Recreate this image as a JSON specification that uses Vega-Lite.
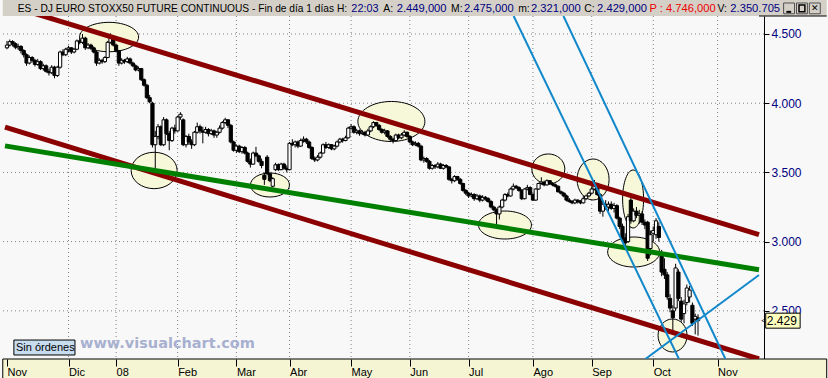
{
"$schema": "https://vega.github.io/schema/vega-lite/v6.json",
"autosize": {"type": "none"},
"padding": {"left": 0, "top": 16, "right": 64, "bottom": 19},
"width": 764,
"height": 343,
"background": "#f8f8f8",
"config": {"view": {"fill": "#f8f8f8", "stroke": null}, "font": "Liberation Sans", "text": {"font": "Liberation Sans"}},
"datasets": {
"candles": [
{"i":0,"o":4400,"h":4450,"l":4390,"c":4420},{"i":1,"o":4420,"h":4460,"l":4410,"c":4445},{"i":2,"o":4445,"h":4455,"l":4410,"c":4430},{"i":3,"o":4430,"h":4440,"l":4390,"c":4405},{"i":4,"o":4400,"h":4430,"l":4385,"c":4410},{"i":5,"o":4410,"h":4420,"l":4360,"c":4380},{"i":6,"o":4380,"h":4390,"l":4330,"c":4350},{"i":7,"o":4350,"h":4360,"l":4270,"c":4290},{"i":8,"o":4290,"h":4345,"l":4280,"c":4330},{"i":9,"o":4330,"h":4340,"l":4295,"c":4310},
{"i":10,"o":4310,"h":4320,"l":4265,"c":4280},{"i":11,"o":4280,"h":4320,"l":4270,"c":4300},{"i":12,"o":4300,"h":4310,"l":4240,"c":4250},{"i":13,"o":4250,"h":4285,"l":4235,"c":4270},{"i":14,"o":4270,"h":4280,"l":4220,"c":4230},{"i":15,"o":4230,"h":4250,"l":4200,"c":4220},{"i":16,"o":4220,"h":4275,"l":4210,"c":4260},{"i":17,"o":4260,"h":4270,"l":4180,"c":4200},{"i":18,"o":4200,"h":4270,"l":4190,"c":4260},{"i":19,"o":4260,"h":4380,"l":4250,"c":4370},
{"i":20,"o":4370,"h":4390,"l":4340,"c":4350},{"i":21,"o":4350,"h":4400,"l":4340,"c":4390},{"i":22,"o":4390,"h":4415,"l":4370,"c":4400},{"i":23,"o":4400,"h":4405,"l":4355,"c":4370},{"i":24,"o":4370,"h":4400,"l":4360,"c":4390},{"i":25,"o":4390,"h":4460,"l":4385,"c":4450},{"i":26,"o":4450,"h":4470,"l":4425,"c":4440},{"i":27,"o":4440,"h":4500,"l":4430,"c":4470},{"i":28,"o":4470,"h":4480,"l":4385,"c":4400},{"i":29,"o":4400,"h":4435,"l":4390,"c":4420},
{"i":30,"o":4420,"h":4430,"l":4385,"c":4400},{"i":31,"o":4400,"h":4410,"l":4360,"c":4370},{"i":32,"o":4370,"h":4380,"l":4270,"c":4290},{"i":33,"o":4290,"h":4325,"l":4280,"c":4310},{"i":34,"o":4310,"h":4320,"l":4285,"c":4300},{"i":35,"o":4300,"h":4340,"l":4290,"c":4330},{"i":36,"o":4330,"h":4450,"l":4325,"c":4440},{"i":37,"o":4440,"h":4505,"l":4430,"c":4480},{"i":38,"o":4480,"h":4490,"l":4410,"c":4420},{"i":39,"o":4420,"h":4430,"l":4370,"c":4380},
{"i":40,"o":4380,"h":4385,"l":4270,"c":4290},{"i":41,"o":4290,"h":4325,"l":4280,"c":4310},{"i":42,"o":4310,"h":4320,"l":4285,"c":4300},{"i":43,"o":4300,"h":4335,"l":4290,"c":4320},{"i":44,"o":4320,"h":4330,"l":4280,"c":4290},{"i":45,"o":4290,"h":4300,"l":4260,"c":4270},{"i":46,"o":4270,"h":4280,"l":4230,"c":4240},{"i":47,"o":4240,"h":4265,"l":4230,"c":4250},{"i":48,"o":4250,"h":4255,"l":4160,"c":4170},{"i":49,"o":4170,"h":4180,"l":4120,"c":4130},
{"i":50,"o":4130,"h":4140,"l":4030,"c":4040},{"i":51,"o":4040,"h":4060,"l":4000,"c":4010},{"i":52,"o":4000,"h":4010,"l":3680,"c":3700},{"i":53,"o":3700,"h":3800,"l":3517,"c":3760},{"i":54,"o":3760,"h":3850,"l":3740,"c":3830},{"i":55,"o":3830,"h":3840,"l":3690,"c":3700},{"i":56,"o":3700,"h":3900,"l":3690,"c":3880},{"i":57,"o":3880,"h":3890,"l":3770,"c":3780},{"i":58,"o":3780,"h":3800,"l":3660,"c":3730},{"i":59,"o":3730,"h":3830,"l":3720,"c":3820},
{"i":60,"o":3820,"h":3845,"l":3780,"c":3800},{"i":61,"o":3800,"h":3910,"l":3795,"c":3900},{"i":62,"o":3900,"h":3935,"l":3880,"c":3920},{"i":63,"o":3880,"h":3890,"l":3690,"c":3700},{"i":64,"o":3700,"h":3770,"l":3680,"c":3760},{"i":65,"o":3760,"h":3780,"l":3700,"c":3720},{"i":66,"o":3720,"h":3740,"l":3670,"c":3700},{"i":67,"o":3700,"h":3800,"l":3690,"c":3790},{"i":68,"o":3790,"h":3860,"l":3780,"c":3830},{"i":69,"o":3830,"h":3845,"l":3780,"c":3800},
{"i":70,"o":3800,"h":3830,"l":3710,"c":3790},{"i":71,"o":3790,"h":3830,"l":3780,"c":3810},{"i":72,"o":3810,"h":3820,"l":3760,"c":3780},{"i":73,"o":3780,"h":3815,"l":3770,"c":3800},{"i":74,"o":3800,"h":3810,"l":3750,"c":3770},{"i":75,"o":3770,"h":3800,"l":3750,"c":3790},{"i":76,"o":3790,"h":3840,"l":3780,"c":3820},{"i":77,"o":3820,"h":3870,"l":3810,"c":3860},{"i":78,"o":3860,"h":3895,"l":3850,"c":3880},{"i":79,"o":3880,"h":3885,"l":3820,"c":3840},
{"i":80,"o":3840,"h":3850,"l":3710,"c":3720},{"i":81,"o":3720,"h":3730,"l":3650,"c":3660},{"i":82,"o":3660,"h":3700,"l":3640,"c":3690},{"i":83,"o":3690,"h":3700,"l":3640,"c":3650},{"i":84,"o":3650,"h":3690,"l":3635,"c":3680},{"i":85,"o":3680,"h":3690,"l":3630,"c":3640},{"i":86,"o":3640,"h":3650,"l":3570,"c":3580},{"i":87,"o":3580,"h":3600,"l":3535,"c":3560},{"i":88,"o":3560,"h":3650,"l":3555,"c":3640},{"i":89,"o":3640,"h":3685,"l":3610,"c":3620},
{"i":90,"o":3620,"h":3630,"l":3570,"c":3580},{"i":91,"o":3580,"h":3600,"l":3530,"c":3550},{"i":92,"o":3480,"h":3500,"l":3410,"c":3450},{"i":93,"o":3610,"h":3625,"l":3480,"c":3490},{"i":94,"o":3490,"h":3500,"l":3430,"c":3440},{"i":95,"o":3400,"h":3465,"l":3390,"c":3455},{"i":96,"o":3520,"h":3570,"l":3510,"c":3555},{"i":97,"o":3555,"h":3565,"l":3510,"c":3520},{"i":98,"o":3520,"h":3570,"l":3515,"c":3560},{"i":99,"o":3560,"h":3570,"l":3520,"c":3530},
{"i":100,"o":3530,"h":3550,"l":3500,"c":3520},{"i":101,"o":3520,"h":3720,"l":3515,"c":3710},{"i":102,"o":3710,"h":3740,"l":3690,"c":3700},{"i":103,"o":3700,"h":3730,"l":3680,"c":3720},{"i":104,"o":3720,"h":3730,"l":3675,"c":3690},{"i":105,"o":3690,"h":3745,"l":3685,"c":3730},{"i":106,"o":3730,"h":3760,"l":3715,"c":3740},{"i":107,"o":3740,"h":3750,"l":3705,"c":3720},{"i":108,"o":3720,"h":3730,"l":3670,"c":3680},{"i":109,"o":3680,"h":3690,"l":3590,"c":3600},
{"i":110,"o":3600,"h":3615,"l":3575,"c":3590},{"i":111,"o":3590,"h":3625,"l":3580,"c":3610},{"i":112,"o":3610,"h":3650,"l":3600,"c":3640},{"i":113,"o":3640,"h":3710,"l":3635,"c":3700},{"i":114,"o":3700,"h":3720,"l":3670,"c":3680},{"i":115,"o":3680,"h":3710,"l":3670,"c":3700},{"i":116,"o":3700,"h":3705,"l":3660,"c":3670},{"i":117,"o":3670,"h":3700,"l":3660,"c":3690},{"i":118,"o":3690,"h":3730,"l":3680,"c":3720},{"i":119,"o":3720,"h":3750,"l":3710,"c":3740},
{"i":120,"o":3740,"h":3750,"l":3715,"c":3730},{"i":121,"o":3730,"h":3765,"l":3725,"c":3750},{"i":122,"o":3750,"h":3830,"l":3745,"c":3820},{"i":123,"o":3820,"h":3850,"l":3810,"c":3830},{"i":124,"o":3830,"h":3840,"l":3780,"c":3790},{"i":125,"o":3790,"h":3815,"l":3775,"c":3800},{"i":126,"o":3800,"h":3810,"l":3765,"c":3780},{"i":127,"o":3780,"h":3805,"l":3770,"c":3790},{"i":128,"o":3790,"h":3800,"l":3760,"c":3770},{"i":129,"o":3770,"h":3815,"l":3765,"c":3800},
{"i":130,"o":3800,"h":3840,"l":3790,"c":3830},{"i":131,"o":3830,"h":3870,"l":3820,"c":3860},{"i":132,"o":3860,"h":3865,"l":3830,"c":3840},{"i":133,"o":3840,"h":3850,"l":3800,"c":3810},{"i":134,"o":3810,"h":3820,"l":3780,"c":3790},{"i":135,"o":3790,"h":3815,"l":3775,"c":3800},{"i":136,"o":3800,"h":3805,"l":3750,"c":3760},{"i":137,"o":3760,"h":3770,"l":3720,"c":3740},{"i":138,"o":3740,"h":3750,"l":3710,"c":3730},{"i":139,"o":3730,"h":3780,"l":3725,"c":3770},
{"i":140,"o":3770,"h":3780,"l":3740,"c":3750},{"i":141,"o":3750,"h":3785,"l":3740,"c":3770},{"i":142,"o":3770,"h":3805,"l":3760,"c":3790},{"i":143,"o":3790,"h":3795,"l":3750,"c":3760},{"i":144,"o":3760,"h":3770,"l":3710,"c":3720},{"i":145,"o":3720,"h":3730,"l":3690,"c":3700},{"i":146,"o":3700,"h":3725,"l":3690,"c":3710},{"i":147,"o":3710,"h":3720,"l":3680,"c":3690},{"i":148,"o":3690,"h":3700,"l":3580,"c":3590},{"i":149,"o":3590,"h":3615,"l":3570,"c":3600},
{"i":150,"o":3600,"h":3610,"l":3570,"c":3580},{"i":151,"o":3580,"h":3590,"l":3520,"c":3530},{"i":152,"o":3530,"h":3560,"l":3520,"c":3550},{"i":153,"o":3550,"h":3560,"l":3525,"c":3540},{"i":154,"o":3540,"h":3575,"l":3530,"c":3560},{"i":155,"o":3560,"h":3570,"l":3525,"c":3530},{"i":156,"o":3530,"h":3560,"l":3520,"c":3550},{"i":157,"o":3550,"h":3560,"l":3530,"c":3540},{"i":158,"o":3540,"h":3545,"l":3440,"c":3450},{"i":159,"o":3450,"h":3460,"l":3420,"c":3440},
{"i":160,"o":3440,"h":3480,"l":3430,"c":3470},{"i":161,"o":3470,"h":3475,"l":3440,"c":3450},{"i":162,"o":3450,"h":3460,"l":3410,"c":3420},{"i":163,"o":3420,"h":3425,"l":3360,"c":3370},{"i":164,"o":3370,"h":3380,"l":3335,"c":3350},{"i":165,"o":3350,"h":3360,"l":3315,"c":3330},{"i":166,"o":3330,"h":3355,"l":3320,"c":3340},{"i":167,"o":3340,"h":3350,"l":3295,"c":3310},{"i":168,"o":3310,"h":3345,"l":3300,"c":3330},{"i":169,"o":3330,"h":3340,"l":3285,"c":3300},
{"i":170,"o":3300,"h":3335,"l":3290,"c":3320},{"i":171,"o":3320,"h":3330,"l":3295,"c":3310},{"i":172,"o":3310,"h":3320,"l":3280,"c":3290},{"i":173,"o":3290,"h":3300,"l":3240,"c":3250},{"i":174,"o":3250,"h":3260,"l":3220,"c":3230},{"i":175,"o":3230,"h":3240,"l":3105,"c":3200},{"i":176,"o":3200,"h":3260,"l":3160,"c":3250},{"i":177,"o":3250,"h":3310,"l":3240,"c":3300},{"i":178,"o":3300,"h":3350,"l":3290,"c":3340},{"i":179,"o":3340,"h":3355,"l":3320,"c":3330},
{"i":180,"o":3330,"h":3390,"l":3325,"c":3380},{"i":181,"o":3380,"h":3420,"l":3370,"c":3400},{"i":182,"o":3400,"h":3410,"l":3380,"c":3390},{"i":183,"o":3390,"h":3400,"l":3360,"c":3370},{"i":184,"o":3370,"h":3380,"l":3300,"c":3310},{"i":185,"o":3310,"h":3385,"l":3305,"c":3380},{"i":186,"o":3380,"h":3410,"l":3370,"c":3390},{"i":187,"o":3390,"h":3400,"l":3335,"c":3340},{"i":188,"o":3340,"h":3350,"l":3295,"c":3300},{"i":189,"o":3300,"h":3385,"l":3295,"c":3380},
{"i":190,"o":3380,"h":3425,"l":3375,"c":3420},{"i":191,"o":3420,"h":3465,"l":3410,"c":3430},{"i":192,"o":3430,"h":3440,"l":3400,"c":3410},{"i":193,"o":3410,"h":3450,"l":3405,"c":3440},{"i":194,"o":3440,"h":3445,"l":3410,"c":3420},{"i":195,"o":3420,"h":3430,"l":3400,"c":3410},{"i":196,"o":3410,"h":3420,"l":3390,"c":3400},{"i":197,"o":3400,"h":3405,"l":3355,"c":3360},{"i":198,"o":3360,"h":3370,"l":3340,"c":3350},{"i":199,"o":3350,"h":3360,"l":3320,"c":3330},
{"i":200,"o":3330,"h":3340,"l":3290,"c":3300},{"i":201,"o":3300,"h":3315,"l":3280,"c":3290},{"i":202,"o":3290,"h":3300,"l":3270,"c":3280},{"i":203,"o":3280,"h":3310,"l":3270,"c":3300},{"i":204,"o":3300,"h":3305,"l":3275,"c":3290},{"i":205,"o":3290,"h":3300,"l":3270,"c":3280},{"i":206,"o":3280,"h":3330,"l":3275,"c":3310},{"i":207,"o":3310,"h":3340,"l":3300,"c":3330},{"i":208,"o":3330,"h":3360,"l":3320,"c":3350},{"i":209,"o":3350,"h":3400,"l":3340,"c":3380},
{"i":210,"o":3380,"h":3445,"l":3370,"c":3420},{"i":211,"o":3420,"h":3425,"l":3330,"c":3340},{"i":212,"o":3340,"h":3350,"l":3200,"c":3220},{"i":213,"o":3220,"h":3290,"l":3180,"c":3270},{"i":214,"o":3270,"h":3300,"l":3230,"c":3250},{"i":215,"o":3250,"h":3290,"l":3220,"c":3270},{"i":216,"o":3270,"h":3290,"l":3230,"c":3240},{"i":217,"o":3240,"h":3280,"l":3210,"c":3260},{"i":218,"o":3260,"h":3270,"l":3160,"c":3170},{"i":219,"o":3170,"h":3180,"l":3090,"c":3110},
{"i":220,"o":3110,"h":3130,"l":3000,"c":3020},{"i":221,"o":3020,"h":3060,"l":2960,"c":2990},{"i":222,"o":3000,"h":3200,"l":2990,"c":3180},{"i":223,"o":3300,"h":3320,"l":3130,"c":3150},{"i":224,"o":3150,"h":3240,"l":3140,"c":3220},{"i":225,"o":3220,"h":3250,"l":3170,"c":3190},{"i":226,"o":3190,"h":3230,"l":3130,"c":3200},{"i":227,"o":3200,"h":3220,"l":3120,"c":3140},{"i":228,"o":3140,"h":3160,"l":3090,"c":3120},{"i":229,"o":3140,"h":3150,"l":2860,"c":2880},
{"i":230,"o":2950,"h":3080,"l":2900,"c":3050},{"i":231,"o":3060,"h":3110,"l":3000,"c":3080},{"i":232,"o":3050,"h":3170,"l":3020,"c":3150},{"i":233,"o":3110,"h":3140,"l":3000,"c":3030},{"i":234,"o":2920,"h":2940,"l":2750,"c":2780},{"i":235,"o":2800,"h":2880,"l":2730,"c":2760},{"i":236,"o":2760,"h":2780,"l":2580,"c":2600},{"i":237,"o":2590,"h":2620,"l":2490,"c":2520},{"i":238,"o":2500,"h":2540,"l":2340,"c":2450},{"i":239,"o":2520,"h":2840,"l":2500,"c":2810},
{"i":240,"o":2780,"h":2800,"l":2570,"c":2590},{"i":241,"o":2570,"h":2600,"l":2420,"c":2440},{"i":242,"o":2480,"h":2580,"l":2410,"c":2550},{"i":243,"o":2560,"h":2690,"l":2540,"c":2665},{"i":244,"o":2600,"h":2680,"l":2560,"c":2650},{"i":245,"o":2540,"h":2560,"l":2390,"c":2410},{"i":246,"o":2440,"h":2480,"l":2330,"c":2460},{"i":247,"o":2449,"h":2475,"l":2321,"c":2429}
],
"months": [{"i":22,"m":"Dic"},{"i":39,"m":"08"},{"i":61,"m":"Feb"},{"i":82,"m":"Mar"},{"i":101,"m":"Abr"},{"i":123,"m":"May"},{"i":144,"m":"Jun"},{"i":165,"m":"Jul"},{"i":188,"m":"Ago"},{"i":209,"m":"Sep"},{"i":231,"m":"Oct"},{"i":254,"m":"Nov"}],
"levels": [{"p":2500},{"p":3000},{"p":3500},{"p":4000},{"p":4500}],
"ellipses": [
{"n":"e1","i":36.5,"p":4478},{"n":"e2","i":52.6,"p":3514},{"n":"e3","i":94.0,"p":3409},{"n":"e4","i":137.4,"p":3868},{"n":"e5","i":178.0,"p":3120},{"n":"e6","i":193.5,"p":3525},{"n":"e7","i":209.5,"p":3449},{"n":"e8","i":223.8,"p":3308},{"n":"e9","i":224.0,"p":2925},{"n":"e10","i":237.9,"p":2322}
],
"lines": [
{"kind":"canal","i":-0.705,"p":4713.8,"i2":268.8,"p2":3050},
{"kind":"canal","i":-0.705,"p":3826.6,"i2":268.8,"p2":2152},
{"kind":"media","i":-0.705,"p":3691.5,"i2":268.8,"p2":2797},
{"kind":"rapida","i":181.1,"p":4630,"i2":240.2,"p2":2152},
{"kind":"rapida","i":198.9,"p":4630,"i2":256.8,"p2":2152},
{"kind":"rapida","i":228.2,"p":2152,"i2":268.8,"p2":2759}
]
},
"layer": [
{"data": {"values": [{}]}, "mark": {"type": "rect", "fill": "#d4d0c8"},
 "encoding": {"x": {"datum": -1.5, "type": "quantitative"}, "x2": {"datum": 293}, "y": {"datum": 4760, "type": "quantitative"}, "y2": {"datum": 4630}}},
{"data": {"values": [{}]}, "mark": {"type": "rule", "stroke": "#000000", "strokeWidth": 1},
 "encoding": {"x": {"datum": 268.8, "type": "quantitative"}, "x2": {"datum": 293}, "y": {"datum": 4630, "type": "quantitative"}}},
{"data": {"values": [{}]}, "mark": {"type": "rect", "fill": "#f5f5d3", "stroke": "#000000", "strokeWidth": 1},
 "encoding": {"x": {"datum": -1.5, "type": "quantitative"}, "x2": {"datum": 293}, "y": {"datum": 2152, "type": "quantitative"}, "y2": {"datum": 1990}}},
{"data": {"name": "months"}, "mark": {"type": "rule", "stroke": "#808080", "strokeWidth": 1, "strokeDash": [1, 3]},
 "encoding": {"x": {"field": "i", "type": "quantitative"}}},
{"data": {"name": "levels"}, "mark": {"type": "rule", "stroke": "#808080", "strokeWidth": 1, "strokeDash": [1, 3]},
 "encoding": {"y": {"field": "p", "type": "quantitative"}}},
{"data": {"name": "ellipses"}, "mark": {"type": "point", "filled": true, "fill": "#f7f7da", "stroke": "#000000", "strokeWidth": 1, "opacity": 1, "strokeOpacity": 1, "fillOpacity": 1, "size": 4},
 "encoding": {"x": {"field": "i", "type": "quantitative"}, "y": {"field": "p", "type": "quantitative"},
  "shape": {"field": "n", "type": "nominal", "legend": null, "scale": {"domain": ["e1","e2","e3","e4","e5","e6","e7","e8","e9","e10"],
   "range": ["M-29.5,0A29.5,14.7,0,1,1,29.5,0A29.5,14.7,0,1,1,-29.5,0Z",
             "M-23,0A23,18.2,0,1,1,23,0A23,18.2,0,1,1,-23,0Z",
             "M-19.5,0A19.5,12,0,1,1,19.5,0A19.5,12,0,1,1,-19.5,0Z",
             "M-33.5,0A33.5,20,0,1,1,33.5,0A33.5,20,0,1,1,-33.5,0Z",
             "M-26.5,0A26.5,14,0,1,1,26.5,0A26.5,14,0,1,1,-26.5,0Z",
             "M-16.5,0A16.5,15,0,1,1,16.5,0A16.5,15,0,1,1,-16.5,0Z",
             "M-16,0A16,20.5,0,1,1,16,0A16,20.5,0,1,1,-16,0Z",
             "M-10.5,0A10.5,29,0,1,1,10.5,0A10.5,29,0,1,1,-10.5,0Z",
             "M-26,0A26,15,0,1,1,26,0A26,15,0,1,1,-26,0Z",
             "M-14.5,0A14.5,16.5,0,1,1,14.5,0A14.5,16.5,0,1,1,-14.5,0Z"]}}}},
{"data": {"name": "candles"}, "mark": {"type": "rule", "stroke": "#000000", "strokeWidth": 1},
 "encoding": {
  "x": {"field": "i", "type": "quantitative", "scale": {"domain": [-0.705, 268.8], "nice": false, "zero": false},
   "axis": {"orient": "bottom", "title": null, "grid": false, "domain": false, "values": [0,22,39,61,82,101,123,144,165,188,209,231,254],
    "labelExpr": "['Nov','Dic','08','Feb','Mar','Abr','May','Jun','Jul','Ago','Sep','Oct','Nov'][indexof([0,22,39,61,82,101,123,144,165,188,209,231,254], datum.value)]",
    "tickColor": "#000000", "tickSize": 7, "labelAlign": "left", "labelDx": 2, "labelPadding": 0, "labelFont": "Liberation Sans", "labelFontSize": 11, "labelColor": "#000000", "labelFlush": false, "labelOverlap": false, "zindex": 1}},
  "y": {"field": "l", "type": "quantitative", "scale": {"domain": [2152, 4630], "nice": false, "zero": false},
   "axis": {"orient": "right", "title": null, "grid": false, "domain": true, "domainColor": "#000000", "domainWidth": 1, "values": [2500,3000,3500,4000,4500],
    "labelExpr": "replace(format(datum.value, ','), ',', '.')", "tickColor": "#000000", "tickSize": 5, "labelPadding": 2, "labelColor": "#000080", "labelFont": "Liberation Sans", "labelFontSize": 12, "zindex": 0}},
  "y2": {"field": "h"}}},
{"data": {"name": "candles"}, "mark": {"type": "bar", "size": 3.2, "stroke": "#000000", "strokeWidth": 1},
 "encoding": {"x": {"field": "i", "type": "quantitative"}, "y": {"field": "o", "type": "quantitative"}, "y2": {"field": "c"},
  "fill": {"condition": {"test": "datum.c < datum.o", "value": "#000000"}, "value": "#ffffff"}}},
{"data": {"name": "lines"}, "transform": [{"filter": "datum.kind != 'rapida'"}], "mark": {"type": "rule", "strokeWidth": 5, "clip": true, "strokeCap": "butt"},
 "encoding": {"x": {"field": "i", "type": "quantitative"}, "x2": {"field": "i2"}, "y": {"field": "p", "type": "quantitative"}, "y2": {"field": "p2"},
  "color": {"field": "kind", "type": "nominal", "legend": null, "scale": {"domain": ["canal", "media", "rapida"], "range": ["#8b0000", "#008000", "#1188cc"]}}}},
{"data": {"name": "lines"}, "transform": [{"filter": "datum.kind == 'rapida'"}], "mark": {"type": "rule", "strokeWidth": 2, "clip": true, "strokeCap": "butt"},
 "encoding": {"x": {"field": "i", "type": "quantitative"}, "x2": {"field": "i2"}, "y": {"field": "p", "type": "quantitative"}, "y2": {"field": "p2"},
  "color": {"field": "kind", "type": "nominal", "legend": null}}},
{"data": {"values": [{}]}, "mark": {"type": "rect", "fill": "#c8dcf0", "stroke": "#000000", "strokeWidth": 1},
 "encoding": {"x": {"datum": 2.47, "type": "quantitative"}, "x2": {"datum": 24.3}, "y": {"datum": 2289, "type": "quantitative"}, "y2": {"datum": 2181}}},
{"data": {"values": [{}]}, "mark": {"type": "text", "text": "Sin órdenes", "align": "left", "baseline": "middle", "fontSize": 11, "color": "#000000"},
 "encoding": {"x": {"datum": 3.2, "type": "quantitative"}, "y": {"datum": 2235, "type": "quantitative"}}},
{"data": {"values": [{}]}, "mark": {"type": "text", "text": "www.visualchart.com", "align": "left", "baseline": "middle", "font": "DejaVu Sans", "fontSize": 14.5, "fontWeight": "bold", "color": "#a8b0d0"},
 "encoding": {"x": {"datum": 26.1, "type": "quantitative"}, "y": {"datum": 2260, "type": "quantitative"}}},
{"data": {"name": "candles"}, "transform": [{"filter": "datum.i == 247"}], "mark": {"type": "rect", "fill": "#ffffc0", "stroke": "#000000", "strokeWidth": 1, "height": 15},
 "encoding": {"x": {"datum": 271.2, "type": "quantitative"}, "x2": {"datum": 283.5}, "y": {"field": "c", "type": "quantitative"}}},
{"data": {"name": "candles"}, "transform": [{"filter": "datum.i == 247"}], "mark": {"type": "text", "text": "2.429", "align": "left", "baseline": "middle", "fontSize": 12, "color": "#000000"},
 "encoding": {"x": {"datum": 271.6, "type": "quantitative"}, "y": {"field": "c", "type": "quantitative"}}},
{"data": {"name": "candles"}, "transform": [{"filter": "datum.i == 247"}], "mark": {"type": "text", "text": "<", "align": "left", "baseline": "middle", "fontSize": 8, "color": "#000000"},
 "encoding": {"x": {"datum": 269.6, "type": "quantitative"}, "y": {"field": "c", "type": "quantitative"}}},
{"data": {"values": [{}]}, "mark": {"type": "text", "text": "ES - DJ EURO STOXX50 FUTURE CONTINUOUS - Fin de día 1 días H:", "align": "left", "baseline": "alphabetic", "fontSize": 10.2, "color": "#000000"},
 "encoding": {"x": {"datum": 3.88, "type": "quantitative"}, "y": {"datum": 4656.7, "type": "quantitative"}}},
{"data": {"values": [{}]}, "mark": {"type": "text", "text": "22:03", "align": "left", "baseline": "alphabetic", "fontSize": 10.8, "color": "#000080"},
 "encoding": {"x": {"datum": 123.1, "type": "quantitative"}, "y": {"datum": 4656.7, "type": "quantitative"}}},
{"data": {"values": [{}]}, "mark": {"type": "text", "text": "A:", "align": "left", "baseline": "alphabetic", "fontSize": 10.4, "color": "#000000"},
 "encoding": {"x": {"datum": 134.5, "type": "quantitative"}, "y": {"datum": 4656.7, "type": "quantitative"}}},
{"data": {"values": [{}]}, "mark": {"type": "text", "text": "2.449,000", "align": "left", "baseline": "alphabetic", "fontSize": 11.2, "color": "#000080"},
 "encoding": {"x": {"datum": 139.33, "type": "quantitative"}, "y": {"datum": 4656.7, "type": "quantitative"}}},
{"data": {"values": [{}]}, "mark": {"type": "text", "text": "M:", "align": "left", "baseline": "alphabetic", "fontSize": 10.4, "color": "#000000"},
 "encoding": {"x": {"datum": 158.73, "type": "quantitative"}, "y": {"datum": 4656.7, "type": "quantitative"}}},
{"data": {"values": [{}]}, "mark": {"type": "text", "text": "2.475,000", "align": "left", "baseline": "alphabetic", "fontSize": 11.2, "color": "#000080"},
 "encoding": {"x": {"datum": 163.32, "type": "quantitative"}, "y": {"datum": 4656.7, "type": "quantitative"}}},
{"data": {"values": [{}]}, "mark": {"type": "text", "text": "m:", "align": "left", "baseline": "alphabetic", "fontSize": 10.4, "color": "#000000"},
 "encoding": {"x": {"datum": 182.72, "type": "quantitative"}, "y": {"datum": 4656.7, "type": "quantitative"}}},
{"data": {"values": [{}]}, "mark": {"type": "text", "text": "2.321,000", "align": "left", "baseline": "alphabetic", "fontSize": 11.2, "color": "#000080"},
 "encoding": {"x": {"datum": 187.3, "type": "quantitative"}, "y": {"datum": 4656.7, "type": "quantitative"}}},
{"data": {"values": [{}]}, "mark": {"type": "text", "text": "C:", "align": "left", "baseline": "alphabetic", "fontSize": 10.4, "color": "#000000"},
 "encoding": {"x": {"datum": 206.35, "type": "quantitative"}, "y": {"datum": 4656.7, "type": "quantitative"}}},
{"data": {"values": [{}]}, "mark": {"type": "text", "text": "2.429,000", "align": "left", "baseline": "alphabetic", "fontSize": 11.2, "color": "#000080"},
 "encoding": {"x": {"datum": 210.93, "type": "quantitative"}, "y": {"datum": 4656.7, "type": "quantitative"}}},
{"data": {"values": [{}]}, "mark": {"type": "text", "text": "P : 4.746,000", "align": "left", "baseline": "alphabetic", "fontSize": 11.2, "color": "#ee0000"},
 "encoding": {"x": {"datum": 229.63, "type": "quantitative"}, "y": {"datum": 4656.7, "type": "quantitative"}}},
{"data": {"values": [{}]}, "mark": {"type": "text", "text": "V:", "align": "left", "baseline": "alphabetic", "fontSize": 10.4, "color": "#000000"},
 "encoding": {"x": {"datum": 253.97, "type": "quantitative"}, "y": {"datum": 4656.7, "type": "quantitative"}}},
{"data": {"values": [{}]}, "mark": {"type": "text", "text": "2.350.705", "align": "left", "baseline": "alphabetic", "fontSize": 11.2, "color": "#000080"},
 "encoding": {"x": {"datum": 258.55, "type": "quantitative"}, "y": {"datum": 4656.7, "type": "quantitative"}}},
{"data": {"values": [{}]}, "mark": {"type": "rect", "fill": "#d4d0c8", "stroke": "#505050", "strokeWidth": 1},
 "encoding": {"x": {"datum": 277.6, "type": "quantitative"}, "x2": {"datum": 281.5}, "y": {"datum": 4724, "type": "quantitative"}, "y2": {"datum": 4646}}},
{"data": {"values": [{}]}, "mark": {"type": "rect", "fill": "#d4d0c8", "stroke": "#505050", "strokeWidth": 1},
 "encoding": {"x": {"datum": 282.2, "type": "quantitative"}, "x2": {"datum": 286.1}, "y": {"datum": 4724, "type": "quantitative"}, "y2": {"datum": 4646}}},
{"data": {"values": [{}]}, "mark": {"type": "rect", "fill": "#d4d0c8", "stroke": "#505050", "strokeWidth": 1},
 "encoding": {"x": {"datum": 286.8, "type": "quantitative"}, "x2": {"datum": 290.7}, "y": {"datum": 4724, "type": "quantitative"}, "y2": {"datum": 4646}}},
{"data": {"values": [{}]}, "mark": {"type": "rule", "stroke": "#000000", "strokeWidth": 2},
 "encoding": {"x": {"datum": 278.6, "type": "quantitative"}, "x2": {"datum": 280.3}, "y": {"datum": 4660, "type": "quantitative"}}},
{"data": {"values": [{}]}, "mark": {"type": "rect", "fill": "#d4d0c8", "stroke": "#000000", "strokeWidth": 1.5},
 "encoding": {"x": {"datum": 283.1, "type": "quantitative"}, "x2": {"datum": 285.2}, "y": {"datum": 4710, "type": "quantitative"}, "y2": {"datum": 4660}}},
{"data": {"values": [{}]}, "mark": {"type": "text", "text": "✕", "align": "center", "baseline": "middle", "font": "DejaVu Sans", "fontSize": 9, "fontWeight": "bold", "color": "#000000"},
 "encoding": {"x": {"datum": 288.75, "type": "quantitative"}, "y": {"datum": 4685, "type": "quantitative"}}}
]
}
